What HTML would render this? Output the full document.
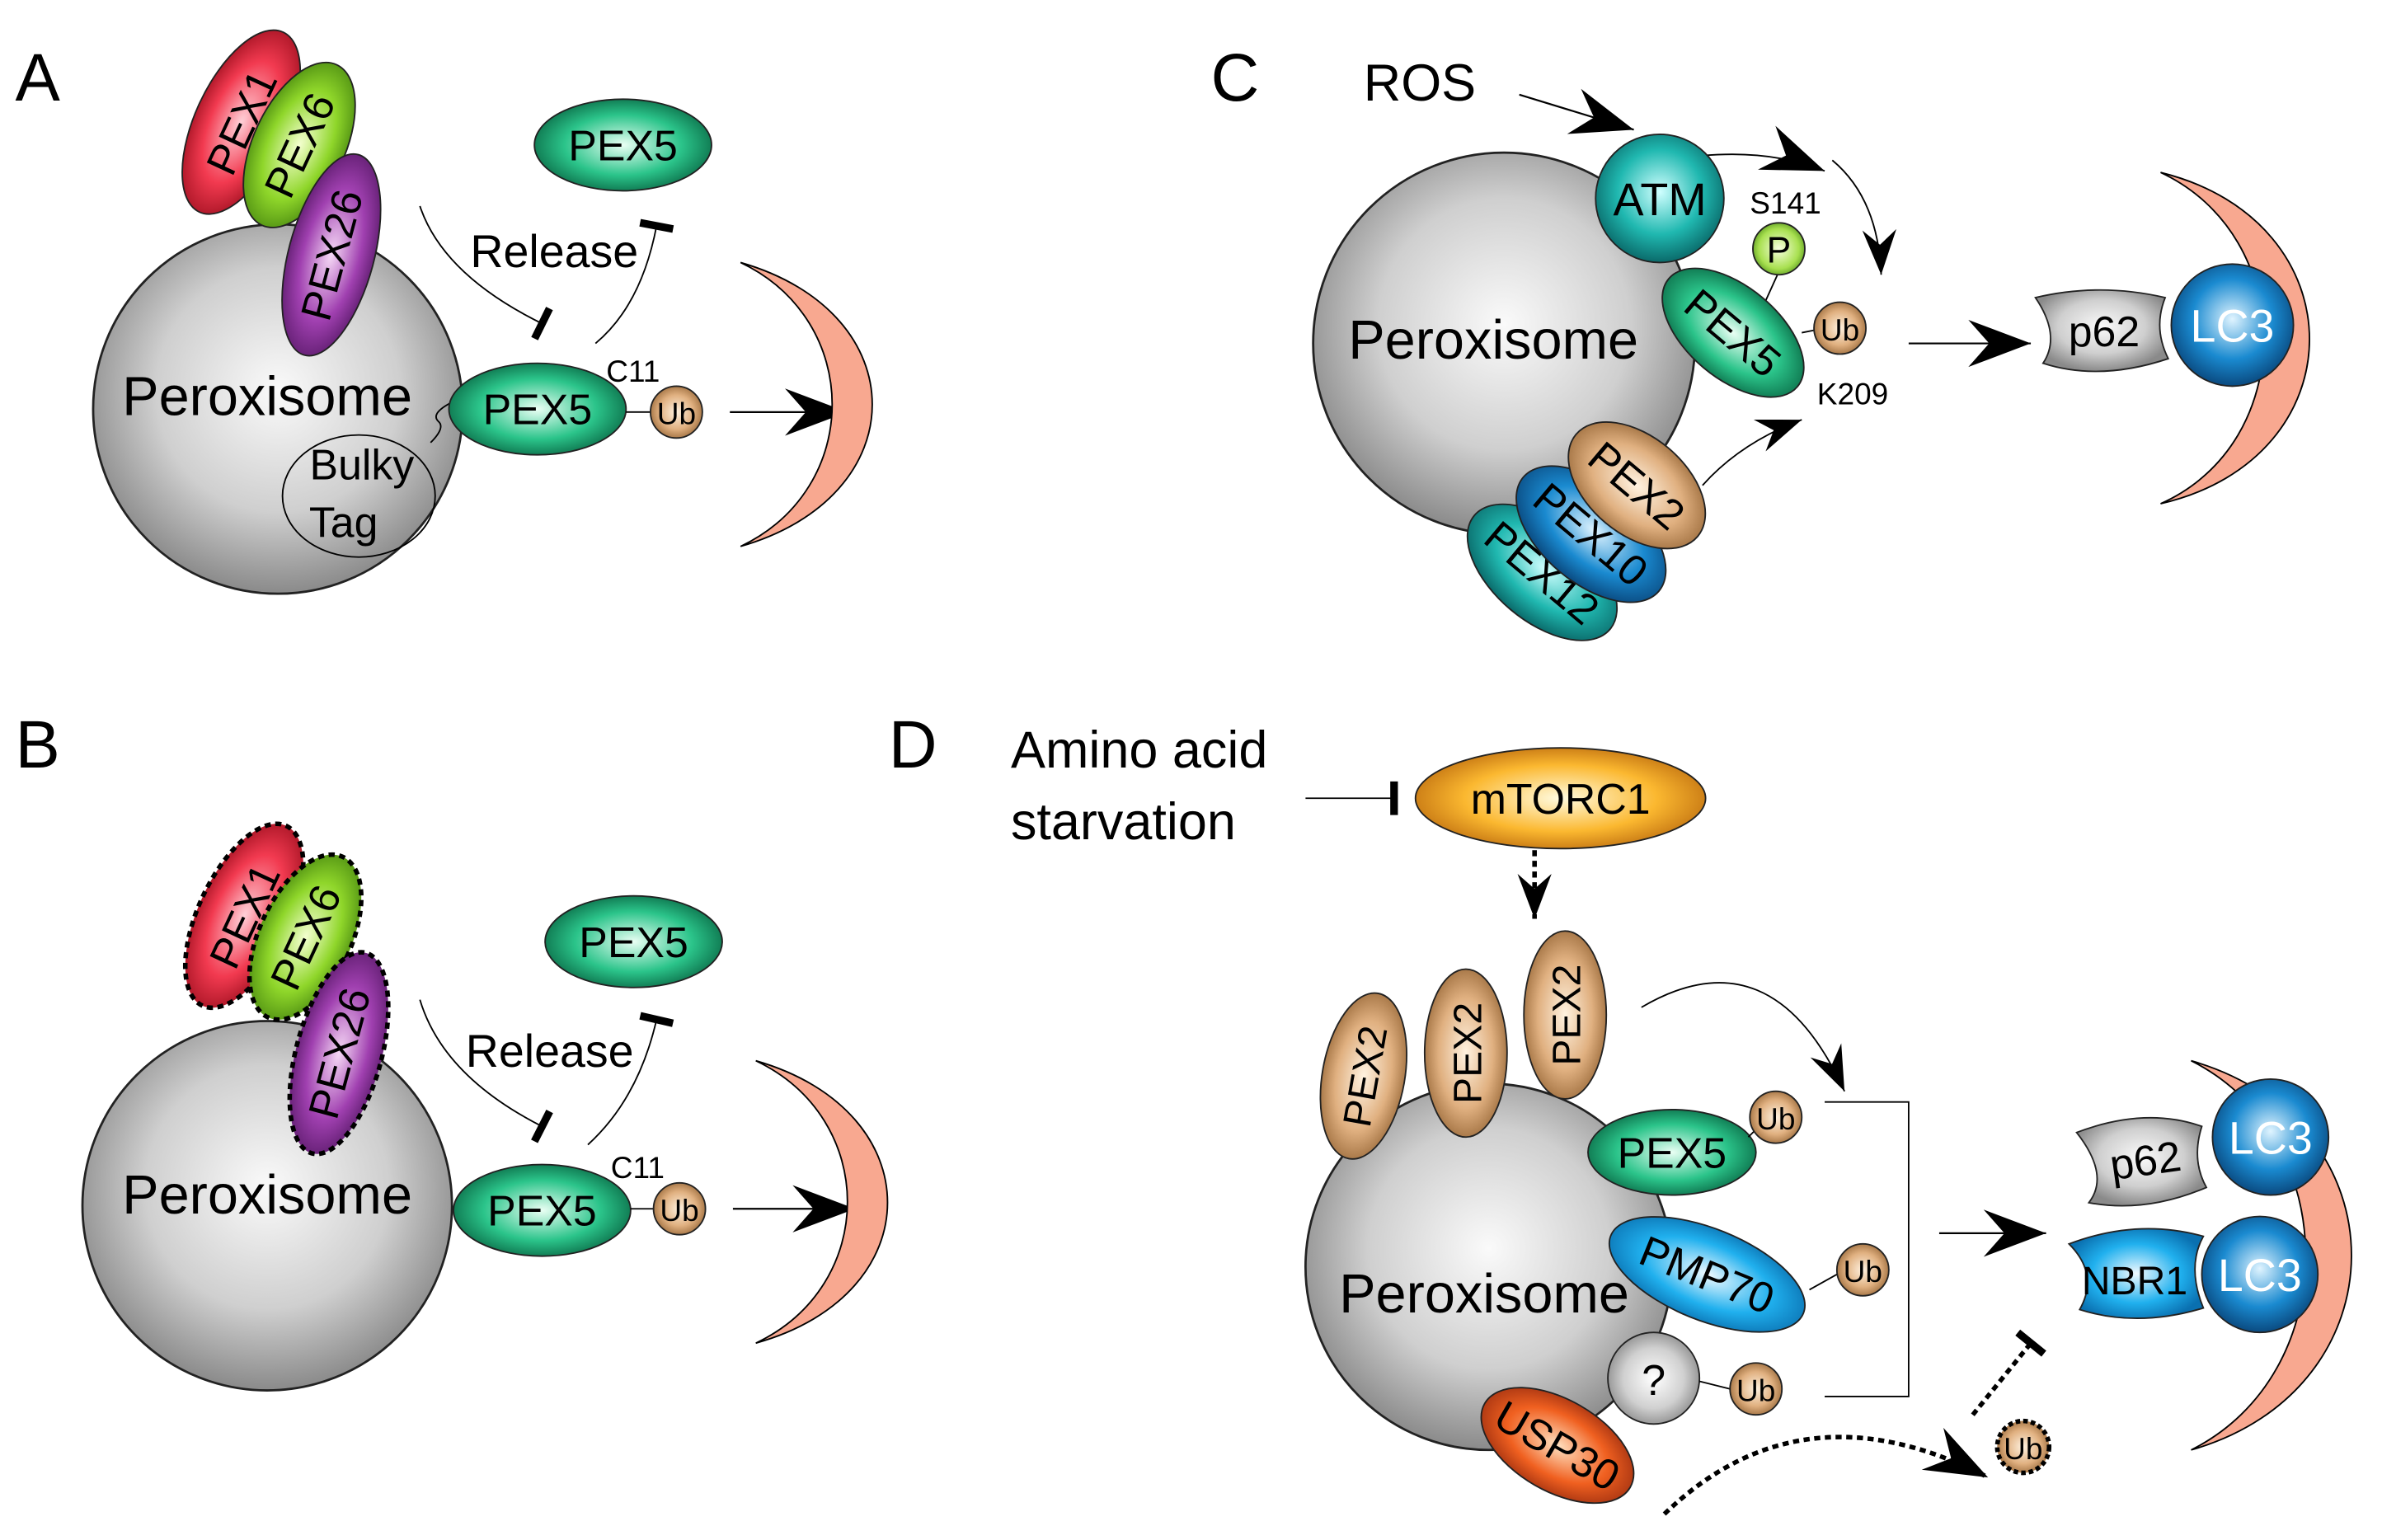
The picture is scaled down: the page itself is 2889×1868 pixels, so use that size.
<!DOCTYPE html>
<html><head><meta charset="utf-8"><style>
html,body{margin:0;padding:0;background:#fff}
svg{display:block}
text{font-family:"Liberation Sans",sans-serif;fill:#000}
</style></head><body>
<svg width="2889" height="1868" viewBox="0 0 1560 1009" preserveAspectRatio="none" xmlns="http://www.w3.org/2000/svg">
<defs>
<radialGradient id="gs" cx="50%" cy="45%" r="55%"><stop offset="0" stop-color="#fafafa"/><stop offset="0.6" stop-color="#cfcfcf"/><stop offset="1" stop-color="#8a8a8a"/></radialGradient>
<radialGradient id="gg" cx="50%" cy="50%" r="55%"><stop offset="0" stop-color="#eafff4"/><stop offset="0.6" stop-color="#2bc48a"/><stop offset="1" stop-color="#0a6a46"/></radialGradient>
<radialGradient id="gr" cx="50%" cy="50%" r="55%"><stop offset="0" stop-color="#ffd0d8"/><stop offset="0.6" stop-color="#f23a50"/><stop offset="1" stop-color="#a01020"/></radialGradient>
<radialGradient id="gl" cx="50%" cy="50%" r="55%"><stop offset="0" stop-color="#f4ffd0"/><stop offset="0.6" stop-color="#8fd62a"/><stop offset="1" stop-color="#4a8a10"/></radialGradient>
<radialGradient id="gp" cx="50%" cy="50%" r="55%"><stop offset="0" stop-color="#f5d8f5"/><stop offset="0.6" stop-color="#a040b0"/><stop offset="1" stop-color="#5a1a6a"/></radialGradient>
<radialGradient id="gt" cx="50%" cy="50%" r="55%"><stop offset="0" stop-color="#fff2e0"/><stop offset="0.6" stop-color="#e0b080"/><stop offset="1" stop-color="#9a6a3a"/></radialGradient>
<radialGradient id="gc" cx="50%" cy="45%" r="55%"><stop offset="0" stop-color="#d0ffff"/><stop offset="0.6" stop-color="#20b8b0"/><stop offset="1" stop-color="#0a6a6a"/></radialGradient>
<radialGradient id="gb" cx="50%" cy="45%" r="55%"><stop offset="0" stop-color="#e0f4ff"/><stop offset="0.6" stop-color="#1a8ad0"/><stop offset="1" stop-color="#0a4a80"/></radialGradient>
<radialGradient id="gsb" cx="50%" cy="50%" r="55%"><stop offset="0" stop-color="#f0faff"/><stop offset="0.6" stop-color="#20b0ee"/><stop offset="1" stop-color="#0a70b0"/></radialGradient>
<radialGradient id="go" cx="50%" cy="50%" r="55%"><stop offset="0" stop-color="#fffbe0"/><stop offset="0.6" stop-color="#fbb830"/><stop offset="1" stop-color="#c07010"/></radialGradient>
<radialGradient id="gu" cx="50%" cy="50%" r="55%"><stop offset="0" stop-color="#ffe0c0"/><stop offset="0.6" stop-color="#f06020"/><stop offset="1" stop-color="#a03010"/></radialGradient>
<radialGradient id="gq" cx="50%" cy="50%" r="55%"><stop offset="0" stop-color="#ffffff"/><stop offset="0.6" stop-color="#d0d0d0"/><stop offset="1" stop-color="#888"/></radialGradient>
<radialGradient id="gpp" cx="50%" cy="50%" r="55%"><stop offset="0" stop-color="#f8ffe0"/><stop offset="0.7" stop-color="#a8e050"/><stop offset="1" stop-color="#5a9a20"/></radialGradient>
<marker id="ah" viewBox="-50 -20 55 40" refX="0" refY="0" markerWidth="50" markerHeight="40" markerUnits="userSpaceOnUse" orient="auto">
<path d="M0,0 L-45,-17 L-30,0 L-45,17 Z" fill="#000"/></marker>
<marker id="ahs" viewBox="-50 -20 55 40" refX="0" refY="0" markerWidth="36" markerHeight="30" markerUnits="userSpaceOnUse" orient="auto">
<path d="M0,0 L-45,-17 L-30,0 L-45,17 Z" fill="#000"/></marker>
<marker id="bar" viewBox="-3 -12 6 24" refX="0" refY="0" markerWidth="6" markerHeight="24" markerUnits="userSpaceOnUse" orient="auto">
<rect x="-2.5" y="-11" width="5" height="22" fill="#000"/></marker>
</defs>

<!-- Panel A -->
<text x="10" y="66" font-size="44">A</text>
<circle cx="182" cy="268" r="121" fill="url(#gs)" stroke="#222" stroke-width="1.5"/>
<text x="175" y="272" font-size="36" text-anchor="middle">Peroxisome</text>
<ellipse cx="235" cy="325" rx="50" ry="40" fill="none" stroke="#000" stroke-width="1"/>
<text x="237" y="314" font-size="28" text-anchor="middle">Bulky</text>
<text x="225" y="352" font-size="28" text-anchor="middle">Tag</text>
<path d="M282,290 q10,-10 5,-14 q-5,-5 8,-12" fill="none" stroke="#000" stroke-width="1"/>
<g transform="rotate(25 158 80)"><ellipse cx="158" cy="80" rx="30" ry="65" fill="url(#gr)" stroke="#222"/><text x="158" y="90" font-size="28" text-anchor="middle" transform="rotate(-90 158 80)">PEX1</text></g>
<g transform="rotate(25 196 95)"><ellipse cx="196" cy="95" rx="30" ry="58" fill="url(#gl)" stroke="#222"/><text x="196" y="105" font-size="28" text-anchor="middle" transform="rotate(-90 196 95)">PEX6</text></g>
<g transform="rotate(15 217 167)"><ellipse cx="217" cy="167" rx="28" ry="68" fill="url(#gp)" stroke="#222"/><text x="217" y="177" font-size="28" text-anchor="middle" transform="rotate(-90 217 167)">PEX26</text></g>
<ellipse cx="408" cy="95" rx="58" ry="30" fill="url(#gg)" stroke="#222"/><text x="408" y="105" font-size="28" text-anchor="middle">PEX5</text>
<ellipse cx="352" cy="268" rx="58" ry="30" fill="url(#gg)" stroke="#222"/><text x="352" y="278" font-size="28" text-anchor="middle">PEX5</text>
<text x="397" y="250" font-size="20">C11</text>
<line x1="410" y1="270" x2="426" y2="270" stroke="#000"/>
<circle cx="443" cy="270" r="17" fill="url(#gt)" stroke="#222"/><text x="443" y="278" font-size="20" text-anchor="middle">Ub</text>
<line x1="478" y1="270" x2="555" y2="270" stroke="#000" stroke-width="1.2" marker-end="url(#ah)"/>
<path d="M485,172 C600,205 600,325 485,358 C565,320 565,210 485,172 Z" fill="#f8a890" stroke="#000" stroke-width="1"/>
<path d="M275,135 Q290,180 355,212" fill="none" stroke="#000" stroke-width="1" marker-end="url(#bar)"/>
<path d="M390,225 Q420,200 430,148" fill="none" stroke="#000" stroke-width="1" marker-end="url(#bar)"/>
<text x="363" y="175" font-size="30" text-anchor="middle">Release</text>

<!-- Panel B -->
<text x="10" y="503" font-size="44">B</text>
<circle cx="175" cy="790" r="121" fill="url(#gs)" stroke="#222" stroke-width="1.5"/>
<text x="175" y="795" font-size="36" text-anchor="middle">Peroxisome</text>
<g transform="rotate(25 160 600)"><ellipse cx="160" cy="600" rx="30" ry="65" fill="url(#gr)" stroke="#000" stroke-width="3" stroke-dasharray="4 3"/><text x="160" y="610" font-size="28" text-anchor="middle" transform="rotate(-90 160 600)">PEX1</text></g>
<g transform="rotate(25 200 614)"><ellipse cx="200" cy="614" rx="30" ry="58" fill="url(#gl)" stroke="#000" stroke-width="3" stroke-dasharray="4 3"/><text x="200" y="624" font-size="28" text-anchor="middle" transform="rotate(-90 200 614)">PEX6</text></g>
<g transform="rotate(15 222 690)"><ellipse cx="222" cy="690" rx="28" ry="68" fill="url(#gp)" stroke="#000" stroke-width="3" stroke-dasharray="4 3"/><text x="222" y="700" font-size="28" text-anchor="middle" transform="rotate(-90 222 690)">PEX26</text></g>
<ellipse cx="415" cy="617" rx="58" ry="30" fill="url(#gg)" stroke="#222"/><text x="415" y="627" font-size="28" text-anchor="middle">PEX5</text>
<ellipse cx="355" cy="793" rx="58" ry="30" fill="url(#gg)" stroke="#222"/><text x="355" y="803" font-size="28" text-anchor="middle">PEX5</text>
<text x="400" y="772" font-size="20">C11</text>
<line x1="413" y1="792" x2="428" y2="792" stroke="#000"/>
<circle cx="445" cy="792" r="17" fill="url(#gt)" stroke="#222"/><text x="445" y="800" font-size="20" text-anchor="middle">Ub</text>
<line x1="480" y1="792" x2="560" y2="792" stroke="#000" stroke-width="1.2" marker-end="url(#ah)"/>
<path d="M495,695 C610,728 610,848 495,880 C575,842 575,733 495,695 Z" fill="#f8a890" stroke="#000" stroke-width="1"/>
<path d="M275,655 Q290,705 355,738" fill="none" stroke="#000" stroke-width="1" marker-end="url(#bar)"/>
<path d="M385,750 Q418,720 430,668" fill="none" stroke="#000" stroke-width="1" marker-end="url(#bar)"/>
<text x="360" y="699" font-size="30" text-anchor="middle">Release</text>

<!-- Panel C -->
<text x="793" y="66" font-size="44">C</text>
<text x="893" y="66" font-size="34">ROS</text>
<line x1="995" y1="62" x2="1070" y2="85" stroke="#000" stroke-width="1.2" marker-end="url(#ah)"/>
<circle cx="985" cy="225" r="125" fill="url(#gs)" stroke="#222" stroke-width="1.5"/>
<text x="978" y="235" font-size="36" text-anchor="middle">Peroxisome</text>
<path d="M1115,102 Q1160,98 1195,112" fill="none" stroke="#000" stroke-width="1" marker-end="url(#ah)"/>
<circle cx="1087" cy="130" r="42" fill="url(#gc)" stroke="#222"/><text x="1087" y="141" font-size="30" text-anchor="middle">ATM</text>
<text x="1146" y="140" font-size="20">S141</text>
<line x1="1165" y1="178" x2="1155" y2="200" stroke="#000"/>
<circle cx="1165" cy="163" r="17" fill="url(#gpp)" stroke="#222"/><text x="1165" y="172" font-size="24" text-anchor="middle">P</text>
<g transform="rotate(40 1135 218)"><ellipse cx="1135" cy="218" rx="55" ry="30" fill="url(#gg)" stroke="#222"/><text x="1135" y="228" font-size="28" text-anchor="middle">PEX5</text></g>
<line x1="1180" y1="218" x2="1190" y2="216" stroke="#000"/>
<circle cx="1205" cy="215" r="17" fill="url(#gt)" stroke="#222"/><text x="1205" y="223" font-size="20" text-anchor="middle">Ub</text>
<path d="M1200,105 Q1230,130 1232,180" fill="none" stroke="#000" stroke-width="1" marker-end="url(#ahs)"/>
<text x="1190" y="265" font-size="20">K209</text>
<g transform="rotate(40 1010 375)"><ellipse cx="1010" cy="375" rx="58" ry="32" fill="url(#gc)" stroke="#222"/><text x="1010" y="385" font-size="28" text-anchor="middle">PEX12</text></g>
<g transform="rotate(40 1042 350)"><ellipse cx="1042" cy="350" rx="58" ry="32" fill="url(#gb)" stroke="#222"/><text x="1042" y="360" font-size="28" text-anchor="middle">PEX10</text></g>
<g transform="rotate(40 1072 318)"><ellipse cx="1072" cy="318" rx="52" ry="32" fill="url(#gt)" stroke="#222"/><text x="1072" y="328" font-size="28" text-anchor="middle">PEX2</text></g>
<path d="M1115,318 Q1140,290 1180,275" fill="none" stroke="#000" stroke-width="1" marker-end="url(#ahs)"/>
<line x1="1250" y1="225" x2="1330" y2="225" stroke="#000" stroke-width="1.2" marker-end="url(#ah)"/>
<path d="M1415,113 C1545,145 1545,300 1415,330 C1505,290 1505,155 1415,113 Z" fill="#f8a890" stroke="#000" stroke-width="1"/>
<path d="M1333,195 Q1375,185 1418,195 Q1410,215 1420,235 Q1375,250 1338,238 Q1350,220 1333,195 Z" fill="url(#gs)" stroke="#222"/>
<text x="1378" y="227" font-size="28" text-anchor="middle">p62</text>
<circle cx="1462" cy="213" r="40" fill="url(#gb)" stroke="#222"/><text x="1462" y="224" font-size="30" text-anchor="middle" style="fill:#fff">LC3</text>

<!-- Panel D -->
<text x="582" y="503" font-size="44">D</text>
<text x="662" y="503" font-size="34">Amino acid</text>
<text x="662" y="550" font-size="34">starvation</text>
<line x1="855" y1="523" x2="913" y2="523" stroke="#000" stroke-width="1" marker-end="url(#bar)"/>
<ellipse cx="1022" cy="523" rx="95" ry="33" fill="url(#go)" stroke="#222"/><text x="1022" y="533" font-size="28" text-anchor="middle">mTORC1</text>
<line x1="1005" y1="557" x2="1005" y2="602" stroke="#000" stroke-width="3" stroke-dasharray="4 3" marker-end="url(#ahs)"/>
<circle cx="975" cy="830" r="120" fill="url(#gs)" stroke="#222" stroke-width="1.5"/>
<text x="972" y="860" font-size="36" text-anchor="middle">Peroxisome</text>
<g transform="rotate(10 893 705)"><ellipse cx="893" cy="705" rx="27" ry="55" fill="url(#gt)" stroke="#222"/><text x="893" y="715" font-size="26" text-anchor="middle" transform="rotate(-90 893 705)">PEX2</text></g>
<g><ellipse cx="960" cy="690" rx="27" ry="55" fill="url(#gt)" stroke="#222"/><text x="960" y="700" font-size="26" text-anchor="middle" transform="rotate(-90 960 690)">PEX2</text></g>
<g><ellipse cx="1025" cy="665" rx="27" ry="55" fill="url(#gt)" stroke="#222"/><text x="1025" y="675" font-size="26" text-anchor="middle" transform="rotate(-90 1025 665)">PEX2</text></g>
<path d="M1075,660 Q1160,610 1208,715" fill="none" stroke="#000" stroke-width="1" marker-end="url(#ahs)"/>
<ellipse cx="1095" cy="755" rx="55" ry="28" fill="url(#gg)" stroke="#222"/><text x="1095" y="765" font-size="28" text-anchor="middle">PEX5</text>
<line x1="1145" y1="745" x2="1150" y2="740" stroke="#000"/>
<circle cx="1163" cy="732" r="17" fill="url(#gt)" stroke="#222"/><text x="1163" y="740" font-size="20" text-anchor="middle">Ub</text>
<g transform="rotate(22 1118 835)"><ellipse cx="1118" cy="835" rx="68" ry="30" fill="url(#gsb)" stroke="#222"/><text x="1118" y="845" font-size="28" text-anchor="middle">PMP70</text></g>
<line x1="1185" y1="845" x2="1203" y2="835" stroke="#000"/>
<circle cx="1220" cy="832" r="17" fill="url(#gt)" stroke="#222"/><text x="1220" y="840" font-size="20" text-anchor="middle">Ub</text>
<circle cx="1083" cy="903" r="30" fill="url(#gq)" stroke="#222"/><text x="1083" y="914" font-size="28" text-anchor="middle">?</text>
<line x1="1113" y1="905" x2="1133" y2="910" stroke="#000"/>
<circle cx="1150" cy="910" r="17" fill="url(#gt)" stroke="#222"/><text x="1150" y="918" font-size="20" text-anchor="middle">Ub</text>
<g transform="rotate(30 1020 947)"><ellipse cx="1020" cy="947" rx="55" ry="30" fill="url(#gu)" stroke="#222"/><text x="1020" y="957" font-size="28" text-anchor="middle">USP30</text></g>
<polyline points="1195,722 1250,722 1250,915 1195,915" fill="none" stroke="#000" stroke-width="1"/>
<line x1="1270" y1="808" x2="1340" y2="808" stroke="#000" stroke-width="1.2" marker-end="url(#ah)"/>
<path d="M1435,695 C1575,735 1575,910 1435,950 C1535,900 1535,745 1435,695 Z" fill="#f8a890" stroke="#000" stroke-width="1"/>
<path d="M1360,742 Q1405,725 1442,738 Q1435,760 1445,778 Q1405,795 1368,788 Q1382,770 1360,742 Z" fill="url(#gs)" stroke="#222"/>
<text x="1405" y="770" font-size="28" text-anchor="middle" transform="rotate(-8 1405 760)">p62</text>
<circle cx="1487" cy="745" r="38" fill="url(#gb)" stroke="#222"/><text x="1487" y="756" font-size="30" text-anchor="middle" style="fill:#fff">LC3</text>
<path d="M1355,815 Q1400,798 1443,810 Q1432,830 1443,857 Q1400,870 1362,858 Q1375,835 1355,815 Z" fill="url(#gsb)" stroke="#222"/>
<text x="1398" y="848" font-size="26" text-anchor="middle">NBR1</text>
<circle cx="1480" cy="835" r="38" fill="url(#gb)" stroke="#222"/><text x="1480" y="846" font-size="30" text-anchor="middle" style="fill:#fff">LC3</text>
<path d="M1090,992 Q1180,905 1302,968" fill="none" stroke="#000" stroke-width="3" stroke-dasharray="4 3" marker-end="url(#ah)"/>
<line x1="1292" y1="927" x2="1330" y2="880" stroke="#000" stroke-width="3" stroke-dasharray="4 3" marker-end="url(#bar)"/>
<circle cx="1325" cy="948" r="17" fill="url(#gt)" stroke="#000" stroke-width="3" stroke-dasharray="3 2"/><text x="1325" y="956" font-size="20" text-anchor="middle">Ub</text>
</svg>
</body></html>
